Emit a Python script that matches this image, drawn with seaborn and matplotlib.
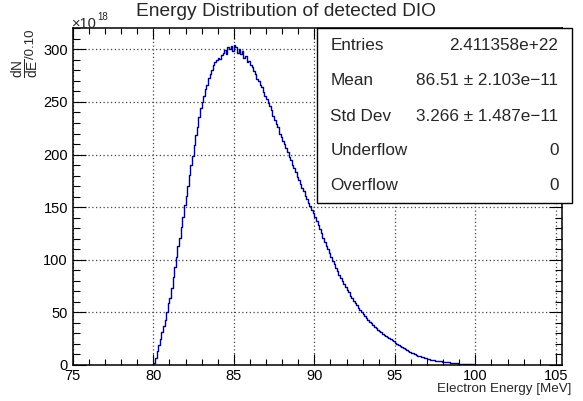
import numpy as np
import pandas as pd
import matplotlib
matplotlib.use("Agg")
import matplotlib.pyplot as plt
from matplotlib.patches import Rectangle
from matplotlib.ticker import MultipleLocator
import seaborn as sns

# ---- data (bin contents in units of 1e18, bin width 0.10 MeV starting at 80.0 MeV) ----
bin_start = 80.0
bin_width = 0.10
counts = [
    2, 7, 13, 19, 25, 31, 37, 43, 50, 59,
    64, 73, 84, 93, 103, 113, 121, 131, 141, 152,
    161, 170, 181, 190, 199, 209, 219, 226, 236, 244,
    250, 256, 262, 266, 273, 277, 280, 285, 288, 290,
    292, 291, 295, 297, 299, 296, 302, 300, 303, 298,
    304, 302, 297, 300, 296, 298, 292, 294, 288, 289,
    285, 283, 279, 277, 272, 270, 266, 264, 259, 256,
    253, 249, 246, 242, 237, 233, 229, 226, 220, 217,
    213, 210, 206, 202, 198, 195, 190, 187, 183, 179,
    176, 172, 168, 165, 161, 158, 154, 151, 147, 144,
    141, 137, 133, 129, 125, 121, 117, 113, 110, 106,
    103, 99, 96, 92, 89, 86, 83, 80, 77, 74,
    71, 69, 66, 64, 61, 59, 57, 54, 52, 50,
    48, 46.3, 44.5, 42.8, 41, 39.5, 38, 36.5, 35, 33.7,
    32.4, 31, 29.8, 28.7, 27.6, 26.5, 25.5, 24.5, 23.5, 22.6,
    21.3, 20, 18.9, 17.8, 16.8, 15.8, 14.9, 14, 13.2, 12.4,
    11.7, 11, 10.3, 9.6, 9, 8.4, 7.9, 7.4, 6.9, 6.4,
    6, 5.6, 5.2, 4.9, 4.6, 4.2, 3.9, 3.7, 3.4, 3.2,
    3.0, 2.8, 2.6, 2.4, 2.2, 2.0, 1.9, 1.7, 1.6, 1.4,
    1.3, 1.2, 1.1, 1.0, 0.9, 0.8, 0.7, 0.6, 0.55, 0.5,
    0.4, 0.35, 0.3, 0.25, 0.2, 0.15, 0.1, 0.07, 0.05, 0.03,
]
x_ticks = [75, 80, 85, 90, 95, 100, 105]
y_ticks = [0, 50, 100, 150, 200, 250, 300]
stat_labels = ["Entries", "Mean", "Std Dev", "Underflow", "Overflow"]
stat_values = ["2.411358e+22", "86.51 \u00b1 2.103e\u221211",
               "3.266 \u00b1 1.487e\u221211", "0", "0"]
title = "Energy Distribution of detected DIO"
xlabel = "Electron Energy [MeV]"

# ---- build histogram table ----
n = len(counts)
edges = bin_start + bin_width * np.arange(n + 1)
centers = (edges[:-1] + edges[1:]) / 2
df = pd.DataFrame({"energy": centers, "w": counts})

sns.set_style("white")
plt.rcParams["font.family"] = ["Liberation Sans", "DejaVu Sans"]
plt.rcParams["mathtext.fontset"] = "custom"
plt.rcParams["mathtext.rm"] = "Liberation Sans"
plt.rcParams["mathtext.it"] = "Liberation Sans"

W, H = 583, 401
fig = plt.figure(figsize=(W / 100, H / 100), dpi=100)
fig.patch.set_facecolor("white")
ax = fig.add_axes([72.8 / W, 1 - 365 / H, (562.3 - 72.8) / W, (365 - 28.3) / H])

sns.histplot(data=df, x="energy", weights="w", binwidth=bin_width,
             binrange=(float(edges[0]), float(edges[-1])), element="step",
             fill=False, color="#00008f", linewidth=1.0, ax=ax)

ax.set_xlim(75, 105.4)
ax.set_ylim(0, 320)
ax.set_xticks(x_ticks)
ax.set_yticks(y_ticks)
ax.xaxis.set_minor_locator(MultipleLocator(1))
ax.yaxis.set_minor_locator(MultipleLocator(10))
ax.tick_params(axis="both", which="both", direction="in", top=True, right=True,
               bottom=True, left=True, labelsize=10.5, width=0.8, colors="black")
ax.tick_params(axis="x", which="major", length=8, pad=3)
ax.tick_params(axis="x", which="minor", length=4)
ax.tick_params(axis="y", which="major", length=9.5, pad=3.5)
ax.tick_params(axis="y", which="minor", length=5)
ax.grid(True, which="major", linestyle=(0, (1, 2)), color="#444444", linewidth=0.9)
for s in ax.spines.values():
    s.set_visible(True)
    s.set_color("black")
    s.set_linewidth(1.1)
ax.set_xlabel("")
ax.set_ylabel("")

# title
fig.text(286 / W, 1 - 12 / H, title, ha="center", va="center", fontsize=13.8)
# x label
fig.text(571.5 / W, 1 - 389 / H, xlabel, ha="right", va="center", fontsize=9.6)
# y label: fraction plus "/0.10"
fig.text(25.5 / W, 1 - 68 / H, r"$\frac{dN}{dE}$", rotation=90,
         ha="center", va="center", fontsize=14)
fig.text(30.5 / W, 1 - 44 / H, "/0.10", rotation=90,
         ha="center", va="center", fontsize=9.5)
# exponent
fig.text(72 / W, 1 - 24 / H, "\u00d710", ha="left", va="center", fontsize=10.5)
fig.text(97.5 / W, 1 - 17 / H, "18", ha="left", va="center", fontsize=7)

# stats box
bx0, bx1, by0, by1 = 317, 572, 28, 203
fig.patches.append(Rectangle((bx0 / W, 1 - by1 / H), (bx1 - bx0) / W, (by1 - by0) / H,
                             transform=fig.transFigure, facecolor="white",
                             edgecolor="black", linewidth=1.0, zorder=5))
row_y = [45, 80.5, 116.5, 150.5, 185.5]
for lab, val, yy in zip(stat_labels, stat_values, row_y):
    fig.text(330.5 / W, 1 - yy / H, lab, ha="left", va="center", fontsize=12.3, zorder=6)
    fig.text(558.5 / W, 1 - yy / H, val, ha="right", va="center", fontsize=12.3, zorder=6)

fig.savefig("out.png", dpi=100)
